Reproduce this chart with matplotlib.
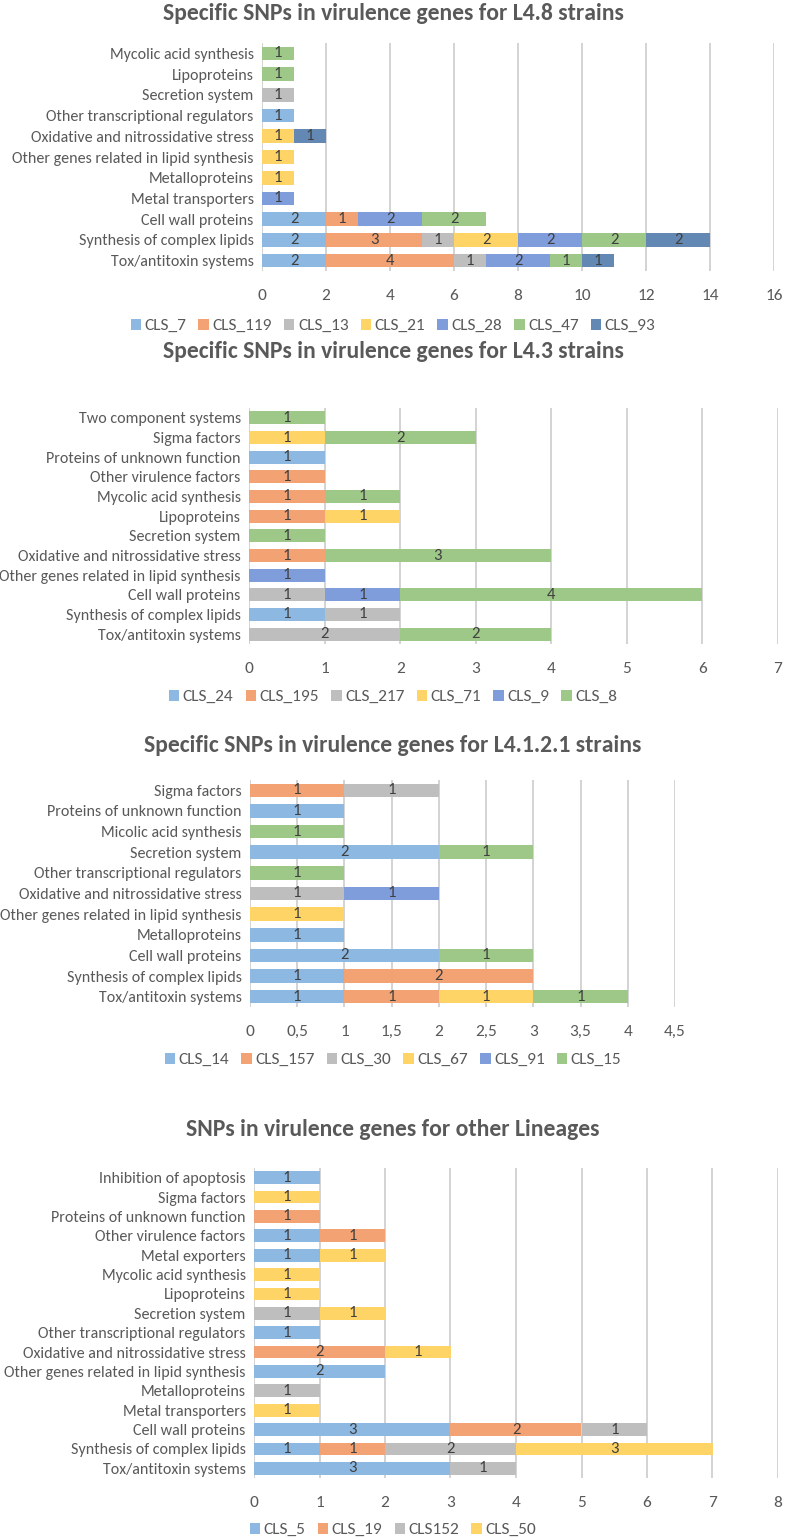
import matplotlib.pyplot as plt
import numpy as np

plt.rcParams['font.family'] = ['Carlito', 'DejaVu Sans']

COLORS = ['#8DB8E2', '#F2A273', '#BEBEBE', '#FFD466', '#7F9CDB', '#9EC887', '#6488B4']

# Panel 1: L4.8 strains (categories bottom -> top)
cats1 = ['Tox/antitoxin systems', 'Synthesis of complex lipids', 'Cell wall proteins',
         'Metal transporters', 'Metalloproteins', 'Other genes related in lipid synthesis',
         'Oxidative and nitrossidative stress', 'Other transcriptional regulators',
         'Secretion system', 'Lipoproteins', 'Mycolic acid synthesis']
names1 = ['CLS_7', 'CLS_119', 'CLS_13', 'CLS_21', 'CLS_28', 'CLS_47', 'CLS_93']
cls_7 = [2, 2, 2, 0, 0, 0, 0, 1, 0, 0, 0]
cls_119 = [4, 3, 1, 0, 0, 0, 0, 0, 0, 0, 0]
cls_13 = [1, 1, 0, 0, 0, 0, 0, 0, 1, 0, 0]
cls_21 = [0, 2, 0, 0, 1, 1, 1, 0, 0, 0, 0]
cls_28 = [2, 2, 2, 1, 0, 0, 0, 0, 0, 0, 0]
cls_47 = [1, 2, 2, 0, 0, 0, 0, 0, 0, 1, 1]
cls_93 = [1, 2, 0, 0, 0, 0, 1, 0, 0, 0, 0]

# Panel 2: L4.3 strains
cats2 = ['Tox/antitoxin systems', 'Synthesis of complex lipids', 'Cell wall proteins',
         'Other genes related in lipid synthesis', 'Oxidative and nitrossidative stress',
         'Secretion system', 'Lipoproteins', 'Mycolic acid synthesis',
         'Other virulence factors', 'Proteins of unknown function', 'Sigma factors',
         'Two component systems']
names2 = ['CLS_24', 'CLS_195', 'CLS_217', 'CLS_71', 'CLS_9', 'CLS_8']
cls_24 = [0, 1, 0, 0, 0, 0, 0, 0, 0, 1, 0, 0]
cls_195 = [0, 0, 0, 0, 1, 0, 1, 1, 1, 0, 0, 0]
cls_217 = [2, 1, 1, 0, 0, 0, 0, 0, 0, 0, 0, 0]
cls_71 = [0, 0, 0, 0, 0, 0, 1, 0, 0, 0, 1, 0]
cls_9 = [0, 0, 1, 1, 0, 0, 0, 0, 0, 0, 0, 0]
cls_8 = [2, 0, 4, 0, 3, 1, 0, 1, 0, 0, 2, 1]

# Panel 3: L4.1.2.1 strains
cats3 = ['Tox/antitoxin systems', 'Synthesis of complex lipids', 'Cell wall proteins',
         'Metalloproteins', 'Other genes related in lipid synthesis',
         'Oxidative and nitrossidative stress', 'Other transcriptional regulators',
         'Secretion system', 'Micolic acid synthesis', 'Proteins of unknown function',
         'Sigma factors']
names3 = ['CLS_14', 'CLS_157', 'CLS_30', 'CLS_67', 'CLS_91', 'CLS_15']
cls_14 = [1, 1, 2, 1, 0, 0, 0, 2, 0, 1, 0]
cls_157 = [1, 2, 0, 0, 0, 0, 0, 0, 0, 0, 1]
cls_30 = [0, 0, 0, 0, 0, 1, 0, 0, 0, 0, 1]
cls_67 = [1, 0, 0, 0, 1, 0, 0, 0, 0, 0, 0]
cls_91 = [0, 0, 0, 0, 0, 1, 0, 0, 0, 0, 0]
cls_15 = [1, 0, 1, 0, 0, 0, 1, 1, 1, 0, 0]

# Panel 4: other lineages
cats4 = ['Tox/antitoxin systems', 'Synthesis of complex lipids', 'Cell wall proteins',
         'Metal transporters', 'Metalloproteins', 'Other genes related in lipid synthesis',
         'Oxidative and nitrossidative stress', 'Other transcriptional regulators',
         'Secretion system', 'Lipoproteins', 'Mycolic acid synthesis', 'Metal exporters',
         'Other virulence factors', 'Proteins of unknown function', 'Sigma factors',
         'Inhibition of apoptosis']
names4 = ['CLS_5', 'CLS_19', 'CLS152', 'CLS_50']
cls_5 = [3, 1, 3, 0, 0, 2, 0, 1, 0, 0, 0, 1, 1, 0, 0, 1]
cls_19 = [0, 1, 2, 0, 0, 0, 2, 0, 0, 0, 0, 0, 1, 1, 0, 0]
cls152 = [1, 2, 1, 0, 1, 0, 0, 0, 1, 0, 0, 0, 0, 0, 0, 0]
cls_50 = [0, 3, 0, 1, 0, 0, 1, 0, 1, 1, 1, 1, 0, 0, 1, 0]

W, H = 786, 1540
fig = plt.figure(figsize=(W / 100, H / 100), dpi=100)


def panel(rect, title, title_y, cats, names, series, colors, xmax, step, legend_y, comma=False):
    x0, x1, y0, y1 = rect
    ax = fig.add_axes([x0 / W, 1 - y1 / H, (x1 - x0) / W, (y1 - y0) / H])
    y = np.arange(len(cats))
    left = np.zeros(len(cats))
    handles = []
    for name, vals, c in zip(names, series, colors):
        vals = np.array(vals, dtype=float)
        b = ax.barh(y, vals, left=left, height=0.66, color=c, zorder=2, label=name)
        handles.append(b)
        for yi, v, l in zip(y, vals, left):
            if v > 0:
                ax.text(l + v / 2, yi, f'{int(v)}', ha='center', va='center',
                        fontsize=12, color='#404040', zorder=3)
        left += vals
    ax.set_xlim(0, xmax)
    ax.set_ylim(-0.5, len(cats) - 0.5)
    ticks = np.arange(0, xmax + step / 2, step)
    ax.set_xticks(ticks)
    if comma:
        ax.set_xticklabels([f'{t:g}'.replace('.', ',') for t in ticks])
    else:
        ax.set_xticklabels([f'{t:g}' for t in ticks])
    ax.set_yticks(y)
    ax.set_yticklabels(cats)
    ax.tick_params(length=0, labelsize=11.5, colors='#595959', pad=6)
    ax.tick_params(axis='x', labelsize=12.5, pad=13)
    ax.grid(axis='x', color='#D0D0D0', linewidth=1.3, zorder=0)
    ax.set_axisbelow(True)
    for s in ax.spines.values():
        s.set_visible(False)
    fig.text(0.5, 1 - title_y / H, title, ha='center', va='center',
             fontsize=17, fontweight='bold', color='#595959')
    fig.legend(handles=handles, loc='center', bbox_to_anchor=(0.5, 1 - legend_y / H),
               ncol=len(names), frameon=False, fontsize=12.5, handlelength=0.6,
               handleheight=0.6, handletextpad=0.2, columnspacing=0.7,
               labelcolor='#595959')
    return ax


panel((262, 774, 43, 271), 'Specific SNPs in virulence genes for L4.8 strains', 14,
      cats1, names1, [cls_7, cls_119, cls_13, cls_21, cls_28, cls_47, cls_93],
      COLORS, 16, 2, 326)
panel((249, 778, 408, 644), 'Specific SNPs in virulence genes for L4.3 strains', 351,
      cats2, names2, [cls_24, cls_195, cls_217, cls_71, cls_9, cls_8],
      COLORS[:6], 7, 1, 697)
panel((250, 675, 780, 1007), 'Specific SNPs in virulence genes for L4.1.2.1 strains', 745,
      cats3, names3, [cls_14, cls_157, cls_30, cls_67, cls_91, cls_15],
      COLORS[:6], 4.5, 0.5, 1060, comma=True)
panel((254, 778, 1168, 1478), 'SNPs in virulence genes for other Lineages', 1129,
      cats4, names4, [cls_5, cls_19, cls152, cls_50],
      COLORS[:4], 8, 1, 1530)

fig.savefig('out.png', dpi=100)
